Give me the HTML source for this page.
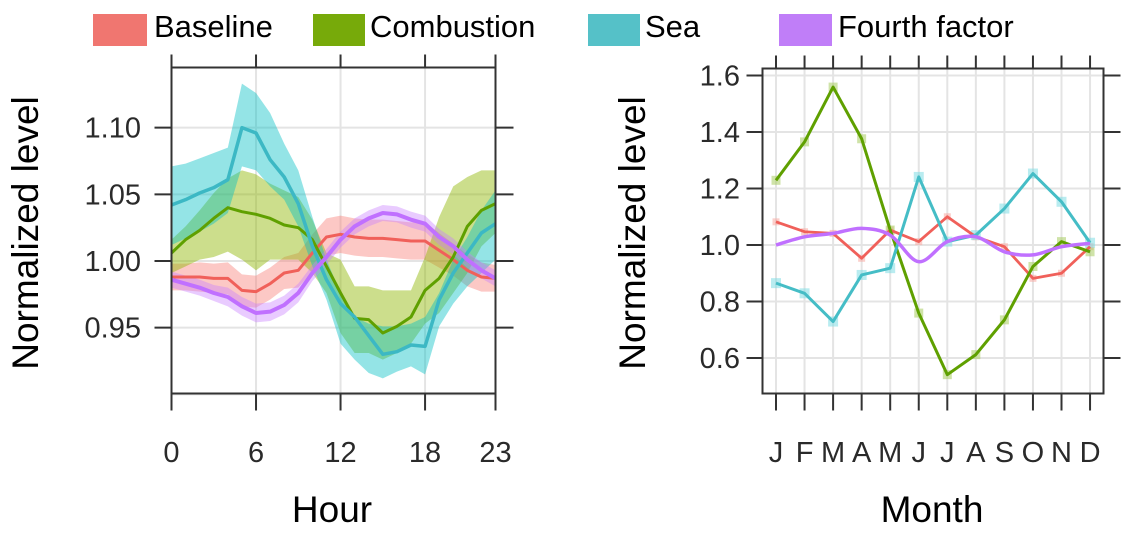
<!DOCTYPE html>
<html><head><meta charset="utf-8">
<style>
html,body{margin:0;padding:0;background:#fff;}
svg{display:block;font-family:"Liberation Sans",Arial,sans-serif;}
.leg{font-family:"Liberation Sans",sans-serif;font-size:31px;fill:#000;}
.tick{font-size:29px;fill:#2a2a2a;}
.title{font-size:37px;fill:#000;}
</style></head><body>
<svg id="chart" width="1137" height="533" viewBox="0 0 1137 533">
<g id="legend">
 <rect x="93" y="14" width="54" height="32" fill="#F07670"/>
 <text class="leg" x="154" y="37">Baseline</text>
 <rect x="313" y="14" width="52" height="32" fill="#77AA0A"/>
 <text class="leg" x="370" y="37">Combustion</text>
 <rect x="588" y="14" width="52" height="32" fill="#55C1C8"/>
 <text class="leg" x="645" y="37">Sea</text>
 <rect x="779" y="14" width="53" height="32" fill="#C07EF8"/>
 <text class="leg" x="838" y="37">Fourth factor</text>
</g>
<g id="left"></g>
<g id="right"></g>
</svg>
<script>
// ---- Hour panel data ----
const hours = [0,1,2,3,4,5,6,7,8,9,10,11,12,13,14,15,16,17,18,19,20,21,22,23];
const hourTicks = [0,6,12,18,23];
const hourYTicks = [0.95,1.00,1.05,1.10];
const hourYTickLabels = ["0.95","1.00","1.05","1.10"];
const seaHour = [1.042,1.046,1.051,1.055,1.061,1.100,1.096,1.076,1.063,1.043,1.011,0.986,0.968,0.958,0.944,0.930,0.932,0.937,0.936,0.971,0.991,1.006,1.021,1.028];
const seaHourUpper = [1.071,1.073,1.077,1.081,1.085,1.133,1.126,1.111,1.088,1.068,1.033,1.001,0.976,0.958,0.953,0.951,0.951,0.953,0.958,0.976,1.001,1.018,1.038,1.053];
const seaHourLower = [1.012,1.017,1.022,1.028,1.036,1.071,1.068,1.056,1.046,1.026,0.996,0.971,0.938,0.926,0.916,0.912,0.917,0.921,0.915,0.951,0.968,0.981,0.991,1.001];
const combHour = [1.006,1.016,1.023,1.032,1.040,1.037,1.035,1.032,1.027,1.025,1.016,0.996,0.976,0.957,0.956,0.946,0.951,0.958,0.978,0.987,1.003,1.026,1.038,1.043];
const combHourUpper = [1.016,1.026,1.038,1.051,1.062,1.068,1.065,1.058,1.053,1.048,1.031,1.006,1.001,0.981,0.981,0.978,0.978,0.978,1.003,1.033,1.056,1.063,1.068,1.068];
const combHourLower = [0.991,0.996,1.001,1.003,1.007,1.001,0.993,1.001,1.001,1.001,0.991,0.976,0.946,0.931,0.931,0.926,0.931,0.938,0.953,0.961,0.976,0.991,1.011,1.021];
const baseHour = [0.988,0.988,0.988,0.987,0.987,0.978,0.977,0.983,0.991,0.993,1.006,1.018,1.020,1.018,1.017,1.017,1.016,1.015,1.015,1.008,1.001,0.993,0.988,0.987];
const baseHourSpread = [0.010,0.010,0.011,0.011,0.012,0.012,0.012,0.012,0.012,0.013,0.014,0.014,0.014,0.014,0.014,0.014,0.014,0.014,0.014,0.013,0.012,0.012,0.011,0.010];
const fourthHour = [0.986,0.983,0.980,0.976,0.973,0.966,0.961,0.962,0.967,0.976,0.991,1.003,1.016,1.026,1.032,1.036,1.035,1.031,1.028,1.018,1.011,1.001,0.993,0.987];
const fourthHourSpread = [0.006,0.006,0.006,0.006,0.007,0.007,0.007,0.007,0.007,0.007,0.006,0.006,0.006,0.006,0.006,0.006,0.006,0.006,0.006,0.006,0.006,0.006,0.006,0.006];

// ---- Month panel data ----
const months = ["J","F","M","A","M","J","J","A","S","O","N","D"];
const monthYTicks = [0.6,0.8,1.0,1.2,1.4,1.6];
const monthYTickLabels = ["0.6","0.8","1.0","1.2","1.4","1.6"];
const combMonth = [1.229,1.365,1.559,1.376,1.053,0.759,0.541,0.612,0.735,0.924,1.012,0.976];
const seaMonth = [0.865,0.829,0.729,0.894,0.918,1.241,1.012,1.035,1.129,1.253,1.153,1.008];
const baseMonth = [1.082,1.047,1.041,0.953,1.053,1.012,1.100,1.029,0.994,0.882,0.900,0.994];
const fourthMonth = [1.000,1.029,1.041,1.059,1.035,0.941,1.012,1.029,0.976,0.965,0.994,1.006];

const NS = "http://www.w3.org/2000/svg";
function mk(parent, tag, attrs){ const e=document.createElementNS(NS,tag); for(const k in attrs) e.setAttribute(k,attrs[k]); parent.appendChild(e); return e; }

// ===== Left panel =====
(function(){
 const g=document.getElementById('left');
 const L=171.5,R=495.5,T=67.5,B=393.5;
 const x=h=>L+(h/23)*(R-L);
 const y=v=>261-(v-1)*1333.3;
 [0,6,12,18].forEach(h=>{ const l=mk(g,'line',{x1:x(h),x2:x(h),y1:T,y2:B,stroke:'#e4e4e4','stroke-width':2});
    });
 [0.90,0.95,1.00,1.05,1.10].forEach(v=>{ const l=mk(g,'line',{x1:L,x2:R,y1:y(v),y2:y(v),stroke:'#e4e4e4','stroke-width':2});
    });
 function band(up,lo,color,op,name){
  let d='M'+hours.map((h,i)=>x(h)+','+y(up[i])).join('L');
  for(let i=hours.length-1;i>=0;i--) d+='L'+x(hours[i])+','+y(lo[i]);
  const p=mk(g,'path',{d:d+'Z',fill:color,'fill-opacity':op,stroke:'none'});
   
 }
 function line(vals,color,name,w){
  const p=mk(g,'path',{d:'M'+hours.map((h,i)=>x(h)+','+y(vals[i])).join('L'),fill:'none',stroke:color,'stroke-width':w,'stroke-linejoin':'round'});
   
 }
 band(baseHour.map((v,i)=>v+baseHourSpread[i]),baseHour.map((v,i)=>v-baseHourSpread[i]),'#F8766D',0.4,'baseline-band');
 band(combHourUpper,combHourLower,'#8DB600',0.45,'combustion-band');
 band(seaHourUpper,seaHourLower,'#00BFC4',0.42,'sea-band');
 band(fourthHour.map((v,i)=>v+fourthHourSpread[i]),fourthHour.map((v,i)=>v-fourthHourSpread[i]),'#C77CFF',0.4,'fourth-factor-band');
 line(baseHour,'#F0605A','baseline-line',3);
 line(combHour,'#5FA000','combustion-line',3);
 line(seaHour,'#3CB8C4','sea-line',3.5);
 line(fourthHour,'#C070FF','fourth-factor-line',4);
 const fr=mk(g,'rect',{x:L,y:T,width:R-L,height:B-T,fill:'none',stroke:'#333','stroke-width':2});
  
 hourTicks.forEach(h=>{
  const t1=mk(g,'line',{x1:x(h),x2:x(h),y1:B,y2:B+17,stroke:'#333','stroke-width':2});
   
  const t2=mk(g,'line',{x1:x(h),x2:x(h),y1:T-13,y2:T,stroke:'#333','stroke-width':2});
   
  const tx=mk(g,'text',{x:x(h),y:462,'text-anchor':'middle',class:'tick'}); tx.textContent=h;
   
 });
 hourYTicks.forEach((v,i)=>{
  const t1=mk(g,'line',{x1:L-17,x2:L,y1:y(v),y2:y(v),stroke:'#333','stroke-width':2});
   
  const t2=mk(g,'line',{x1:R,x2:R+18,y1:y(v),y2:y(v),stroke:'#333','stroke-width':2});
   
  const tx=mk(g,'text',{x:141,y:y(v)+10,'text-anchor':'end',class:'tick'}); tx.textContent=hourYTickLabels[i];
   
 });
 const yt=mk(g,'text',{x:0,y:0,class:'title','text-anchor':'middle',transform:'translate(38,233) rotate(-90)'}); yt.textContent='Normalized level';
  
 const xt=mk(g,'text',{x:332,y:522,class:'title','text-anchor':'middle'}); xt.textContent='Hour';
  
})();

// ===== Right panel =====
(function(){
 const g=document.getElementById('right');
 const L=762.5,R=1103.5,T=68.5,B=393.5;
 const x=i=>776+i*28.55;
 const y=v=>245-(v-1)*282.5;
 months.forEach((m,i)=>{ const l=mk(g,'line',{x1:x(i),x2:x(i),y1:T,y2:B,stroke:'#e4e4e4','stroke-width':2});
    });
 monthYTicks.forEach(v=>{ const l=mk(g,'line',{x1:L,x2:R,y1:y(v),y2:y(v),stroke:'#e4e4e4','stroke-width':2});
    });
 function line(vals,color,name,w,smooth){
  let d='M'+x(0)+','+y(vals[0]);
  if(smooth){
   for(let i=0;i<vals.length-1;i++){
    const p0=[x(Math.max(i-1,0)),y(vals[Math.max(i-1,0)])],p1=[x(i),y(vals[i])],p2=[x(i+1),y(vals[i+1])],p3=[x(Math.min(i+2,vals.length-1)),y(vals[Math.min(i+2,vals.length-1)])];
    d+='C'+(p1[0]+(p2[0]-p0[0])/6)+','+(p1[1]+(p2[1]-p0[1])/6)+' '+(p2[0]-(p3[0]-p1[0])/6)+','+(p2[1]-(p3[1]-p1[1])/6)+' '+p2[0]+','+p2[1];
   }
  } else { for(let i=1;i<vals.length;i++) d+='L'+x(i)+','+y(vals[i]); }
  const p=mk(g,'path',{d:d,fill:'none',stroke:color,'stroke-width':w,'stroke-linejoin':'round'});
   
 }
 function markers(vals,color,size,name){
  vals.forEach((v,i)=>{ const r=mk(g,'rect',{x:x(i)-size/2,y:y(v)-size/2,width:size,height:size,fill:color,'fill-opacity':0.55});
     });
 }
 markers(baseMonth,'#F8A8A0',7,'baseline-marker');
 markers(combMonth,'#A8CC60',9,'combustion-marker');
 markers(seaMonth,'#7FDDE4',10,'sea-marker');
 line(baseMonth,'#F0605A','baseline-line',2.8,false);
 line(combMonth,'#5FA000','combustion-line',3,false);
 line(seaMonth,'#45BDC6','sea-line',3,false);
 line(fourthMonth,'#C070FF','fourth-factor-line',3.5,true);
 const fr=mk(g,'rect',{x:L,y:T,width:R-L,height:B-T,fill:'none',stroke:'#333','stroke-width':2});
  
 months.forEach((m,i)=>{
  const t1=mk(g,'line',{x1:x(i),x2:x(i),y1:B,y2:B+17,stroke:'#333','stroke-width':2});
   
  const t2=mk(g,'line',{x1:x(i),x2:x(i),y1:T-13,y2:T,stroke:'#333','stroke-width':2});
   
  const tx=mk(g,'text',{x:x(i),y:462,'text-anchor':'middle',class:'tick'}); tx.textContent=m;
   
 });
 monthYTicks.forEach((v,i)=>{
  const t1=mk(g,'line',{x1:L-16,x2:L,y1:y(v),y2:y(v),stroke:'#333','stroke-width':2});
   
  const t2=mk(g,'line',{x1:R,x2:R+17,y1:y(v),y2:y(v),stroke:'#333','stroke-width':2});
   
  const tx=mk(g,'text',{x:740,y:y(v)+10,'text-anchor':'end',class:'tick'}); tx.textContent=monthYTickLabels[i];
   
 });
 const yt=mk(g,'text',{x:0,y:0,class:'title','text-anchor':'middle',transform:'translate(645,233) rotate(-90)'}); yt.textContent='Normalized level';
  
 const xt=mk(g,'text',{x:932,y:522,class:'title','text-anchor':'middle'}); xt.textContent='Month';
  
})();
</script>
</body></html>
